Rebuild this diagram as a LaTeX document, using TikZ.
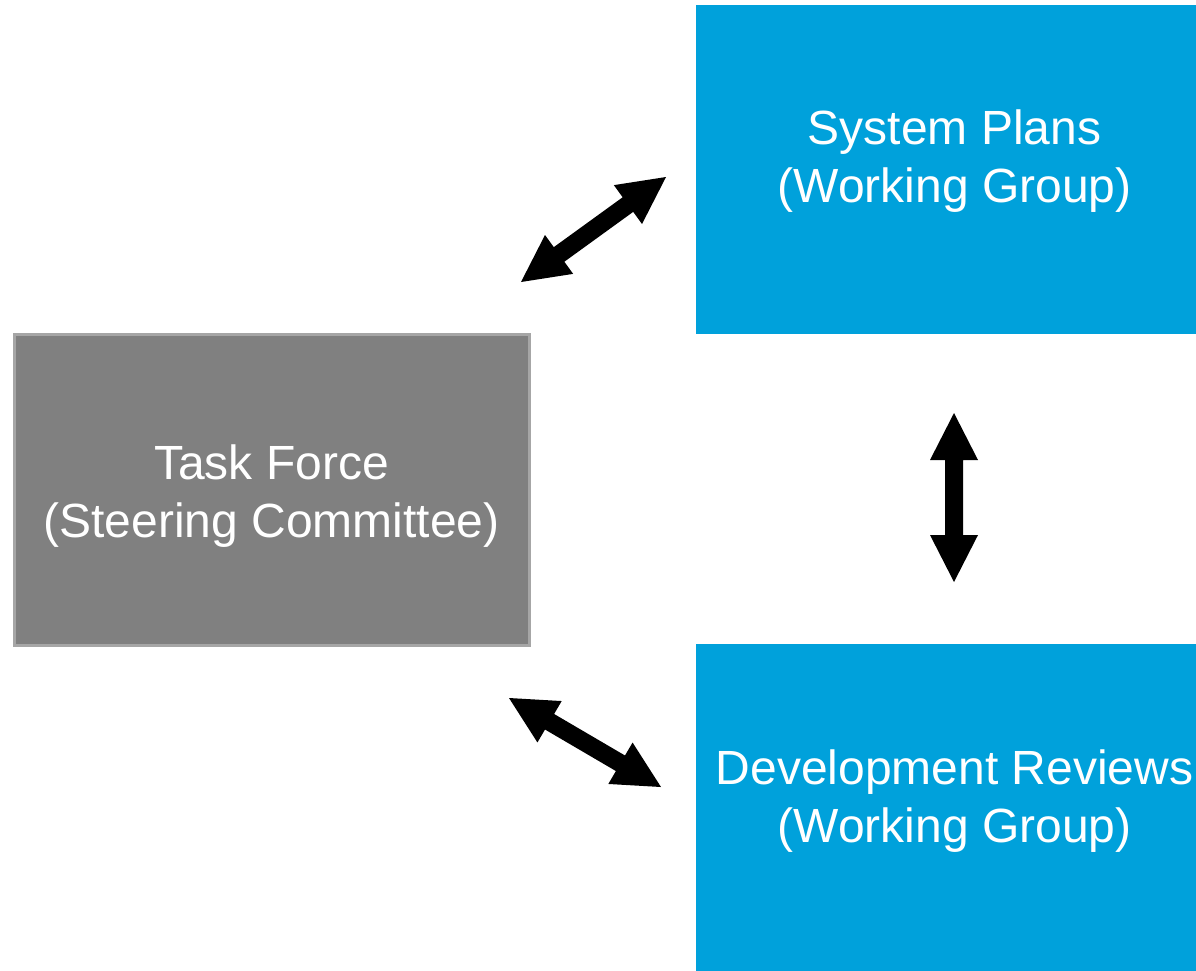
\documentclass[tikz,border=0pt]{standalone}
\usepackage{fontspec}
\setmainfont{Liberation Sans}
\usetikzlibrary{calc}
\definecolor{wgblue}{HTML}{00A1DB}
\definecolor{tfgray}{HTML}{808080}
\definecolor{tfborder}{HTML}{A6A6A6}
\newcommand\blockarrow[2]{%
  \fill[black] (#1)
    -- ($(#1)!47pt!(#2)!24pt!90:(#2)$)
    -- ($(#1)!47pt!(#2)!9pt!90:(#2)$)
    -- ($(#2)!47pt!(#1)!9pt!-90:(#1)$)
    -- ($(#2)!47pt!(#1)!24pt!-90:(#1)$)
    -- (#2)
    -- ($(#2)!47pt!(#1)!24pt!90:(#1)$)
    -- ($(#2)!47pt!(#1)!9pt!90:(#1)$)
    -- ($(#1)!47pt!(#2)!9pt!-90:(#2)$)
    -- ($(#1)!47pt!(#2)!24pt!-90:(#2)$)
    -- cycle;}
\begin{document}
\begin{tikzpicture}[x=1pt,y=-1pt,
  bluebox/.style={rectangle, fill=wgblue, draw=none, inner sep=0pt},
  graybox/.style={rectangle, fill=tfgray, draw=tfborder, line width=3pt, inner sep=0pt},
  boxtext/.style={text=white, align=center, font=\fontsize{48}{58}\selectfont, inner sep=0pt}]
\useasboundingbox (0,0) rectangle (1196,970);
\fill[white] (0,0) rectangle (1196,970);
\node[bluebox, minimum width=517pt, minimum height=329pt] (sp) at (954.5,169.5) {};
\node[bluebox, minimum width=517pt, minimum height=346pt] (dr) at (954.5,817) {};
\node[graybox, minimum width=515pt, minimum height=311pt] (tf) at (272,490) {};
\node[boxtext] (spt) at (954.5,161.5) {System Plans\\(Working Group)};
\node[boxtext] (drt) at (954.5,801) {Development Reviews\\(Working Group)};
\node[boxtext] (tft) at (271.5,496) {Task Force\\(Steering Committee)};
\coordinate (a1s) at (521,282);
\coordinate (a1e) at (666,177);
\coordinate (a2s) at (954,413);
\coordinate (a2e) at (954,582);
\coordinate (a3s) at (509,698);
\coordinate (a3e) at (661,787);
\blockarrow{a1s}{a1e}
\blockarrow{a2s}{a2e}
\blockarrow{a3s}{a3e}
\end{tikzpicture}
\end{document}
